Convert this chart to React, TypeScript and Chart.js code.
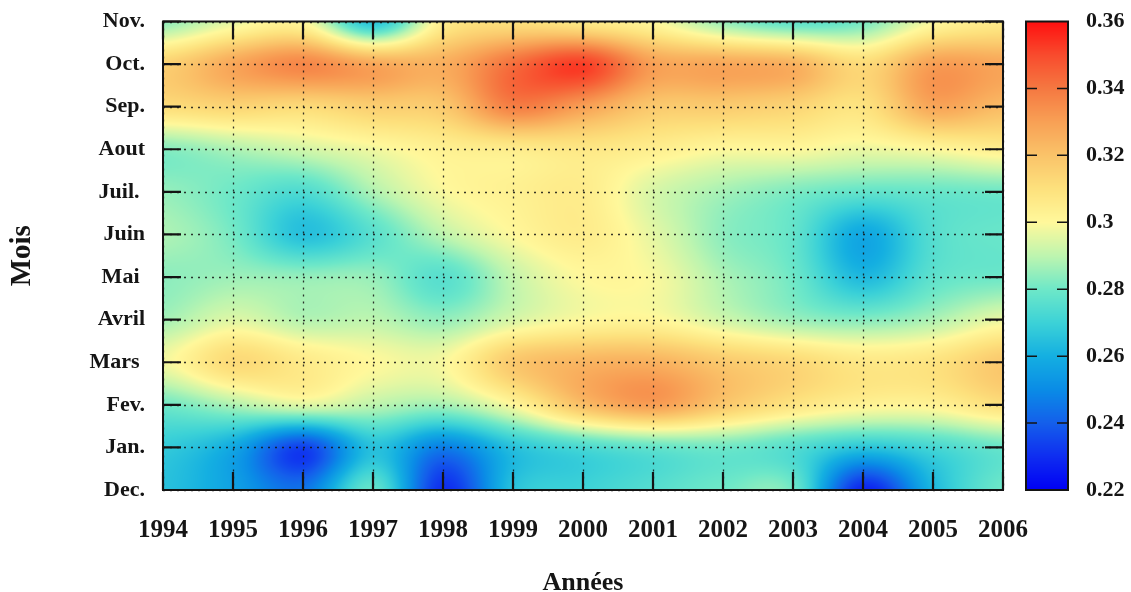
import React, { useEffect, useRef } from "react";
import { Chart, registerables } from "chart.js";

Chart.register(...registerables);

// ---------- DATA ----------
const years = [1994, 1995, 1996, 1997, 1998, 1999, 2000, 2001, 2002, 2003, 2004, 2005, 2006];
const months = ["Dec.", "Jan.", "Fev.", "Mars ", "Avril", "Mai ", "Juin", "Juil. ", "Aout", "Sep.", "Oct.", "Nov."];

// one array per month (values for 1994 … 2006)
const decValues = [0.265, 0.256, 0.245, 0.278, 0.23, 0.265, 0.27, 0.275, 0.28, 0.28, 0.228, 0.262, 0.28];
const janValues = [0.268, 0.258, 0.234, 0.265, 0.247, 0.265, 0.273, 0.278, 0.28, 0.275, 0.266, 0.272, 0.279];
const fevValues = [0.28, 0.288, 0.295, 0.29, 0.287, 0.3, 0.321, 0.33, 0.318, 0.308, 0.302, 0.302, 0.31];
const marsValues = [0.298, 0.312, 0.306, 0.3, 0.299, 0.318, 0.324, 0.325, 0.318, 0.313, 0.307, 0.309, 0.318];
const avrilValues = [0.287, 0.295, 0.289, 0.29, 0.285, 0.294, 0.3, 0.301, 0.293, 0.286, 0.283, 0.288, 0.297];
const maiValues = [0.284, 0.286, 0.285, 0.285, 0.276, 0.291, 0.3, 0.299, 0.288, 0.28, 0.263, 0.277, 0.28];
const juinValues = [0.288, 0.281, 0.265, 0.276, 0.29, 0.3, 0.305, 0.296, 0.284, 0.278, 0.258, 0.275, 0.279];
const juilValues = [0.285, 0.28, 0.274, 0.288, 0.299, 0.303, 0.305, 0.294, 0.287, 0.282, 0.278, 0.279, 0.28];
const aoutValues = [0.283, 0.288, 0.293, 0.298, 0.303, 0.305, 0.307, 0.304, 0.3, 0.3, 0.297, 0.3, 0.304];
const sepValues = [0.311, 0.314, 0.312, 0.316, 0.318, 0.338, 0.33, 0.318, 0.317, 0.314, 0.309, 0.328, 0.322];
const octValues = [0.315, 0.328, 0.336, 0.328, 0.326, 0.342, 0.352, 0.33, 0.328, 0.325, 0.312, 0.33, 0.328];
const novValues = [0.284, 0.296, 0.3, 0.265, 0.304, 0.31, 0.306, 0.3, 0.285, 0.277, 0.281, 0.299, 0.306];

const valueRows = [
  decValues, janValues, fevValues, marsValues, avrilValues, maiValues,
  juinValues, juilValues, aoutValues, sepValues, octValues, novValues,
];

const colorMin = 0.22;
const colorMax = 0.36;
const colorStep = 0.02;

const xTitle = "Années";
const yTitle = "Mois";

// ---------- STYLE ----------
const FONT = "'Liberation Serif', 'Times New Roman', serif";
const TEXT = "#151515";

const stopVals = [0.22, 0.23, 0.24, 0.25, 0.26, 0.27, 0.28, 0.29, 0.3, 0.31, 0.32, 0.33, 0.34, 0.35, 0.36];
const stopColors = [
  [0, 0, 245], [15, 45, 240], [20, 95, 235], [10, 140, 230], [20, 175, 225],
  [60, 210, 215], [110, 232, 200], [190, 245, 175], [255, 248, 155], [253, 225, 125],
  [250, 195, 105], [248, 160, 85], [245, 120, 65], [248, 75, 45], [255, 15, 15],
];

function cmap(v: number): number[] {
  if (v <= stopVals[0]) return stopColors[0];
  const n = stopVals.length;
  if (v >= stopVals[n - 1]) return stopColors[n - 1];
  let k = 0;
  while (k < n - 2 && v > stopVals[k + 1]) k++;
  const t = (v - stopVals[k]) / (stopVals[k + 1] - stopVals[k]);
  const a = stopColors[k], b = stopColors[k + 1];
  return [a[0] + (b[0] - a[0]) * t, a[1] + (b[1] - a[1]) * t, a[2] + (b[2] - a[2]) * t];
}

function catmull(p0: number, p1: number, p2: number, p3: number, t: number) {
  return 0.5 * (2 * p1 + (-p0 + p2) * t + (2 * p0 - 5 * p1 + 4 * p2 - p3) * t * t + (-p0 + 3 * p1 - 3 * p2 + p3) * t * t * t);
}

function clampI(i: number, n: number) {
  return i < 0 ? 0 : i > n - 1 ? n - 1 : i;
}

function sample(u: number, v: number) {
  const nx = years.length, ny = valueRows.length;
  let i = Math.floor(u);
  if (i > nx - 2) i = nx - 2;
  if (i < 0) i = 0;
  const tx = u - i;
  let j = Math.floor(v);
  if (j > ny - 2) j = ny - 2;
  if (j < 0) j = 0;
  const ty = v - j;
  const row = (jj: number) => {
    const r = valueRows[clampI(jj, ny)];
    return catmull(r[clampI(i - 1, nx)], r[i], r[i + 1], r[clampI(i + 2, nx)], tx);
  };
  return catmull(row(j - 1), row(j), row(j + 1), row(j + 2), ty);
}

const heatmapPlugin = {
  id: "heatmap",
  beforeDatasetsDraw(chart: any) {
    const { ctx, chartArea: a, scales } = chart;
    const xs = scales.x, ys = scales.y;
    const w = Math.round(a.right - a.left);
    const h = Math.round(a.bottom - a.top);
    const off = document.createElement("canvas");
    off.width = w;
    off.height = h;
    const octx = off.getContext("2d")!;
    const img = octx.createImageData(w, h);
    const us: number[] = [];
    for (let px = 0; px < w; px++) {
      us.push(xs.getValueForPixel(a.left + ((px + 0.5) * (a.right - a.left)) / w) - years[0]);
    }
    for (let py = 0; py < h; py++) {
      const v = ys.getValueForPixel(a.top + ((py + 0.5) * (a.bottom - a.top)) / h);
      for (let px = 0; px < w; px++) {
        const c = cmap(sample(us[px], v));
        const k = (py * w + px) * 4;
        img.data[k] = c[0];
        img.data[k + 1] = c[1];
        img.data[k + 2] = c[2];
        img.data[k + 3] = 255;
      }
    }
    octx.putImageData(img, 0, 0);
    ctx.save();
    ctx.drawImage(off, a.left, a.top, a.right - a.left, a.bottom - a.top);
    ctx.restore();
  },
  afterDatasetsDraw(chart: any) {
    const { ctx, chartArea: a, scales } = chart;
    const xs = scales.x, ys = scales.y, cs = scales.c;
    ctx.save();
    // dotted grid
    ctx.strokeStyle = "rgba(20,20,20,0.85)";
    ctx.lineWidth = 1.3;
    ctx.setLineDash([2, 5]);
    xs.ticks.forEach((t: any) => {
      const px = Math.round(xs.getPixelForValue(t.value)) + 0.5;
      ctx.beginPath();
      ctx.moveTo(px, a.top);
      ctx.lineTo(px, a.bottom);
      ctx.stroke();
    });
    ys.ticks.forEach((t: any) => {
      const py = Math.round(ys.getPixelForValue(t.value)) + 0.5;
      ctx.beginPath();
      ctx.moveTo(a.left, py);
      ctx.lineTo(a.right, py);
      ctx.stroke();
    });
    ctx.setLineDash([]);
    // inward tick marks
    ctx.strokeStyle = "#141414";
    ctx.lineWidth = 2.2;
    const TL = 18;
    xs.ticks.forEach((t: any) => {
      const px = xs.getPixelForValue(t.value);
      ctx.beginPath();
      ctx.moveTo(px, a.top);
      ctx.lineTo(px, a.top + TL);
      ctx.moveTo(px, a.bottom);
      ctx.lineTo(px, a.bottom - TL);
      ctx.stroke();
    });
    ys.ticks.forEach((t: any) => {
      const py = ys.getPixelForValue(t.value);
      ctx.beginPath();
      ctx.moveTo(a.left, py);
      ctx.lineTo(a.left + TL, py);
      ctx.moveTo(a.right, py);
      ctx.lineTo(a.right - TL, py);
      ctx.stroke();
    });
    // frame
    ctx.lineWidth = 2;
    ctx.strokeRect(a.left, a.top, a.right - a.left, a.bottom - a.top);

    // colour bar
    const bx = cs.left + 23;
    const bw = 42;
    const top = cs.getPixelForValue(colorMax);
    const bottom = cs.getPixelForValue(colorMin);
    for (let py = Math.floor(top); py < Math.ceil(bottom); py++) {
      const val = cs.getValueForPixel(py + 0.5);
      const c = cmap(val);
      ctx.fillStyle = `rgb(${Math.round(c[0])},${Math.round(c[1])},${Math.round(c[2])})`;
      ctx.fillRect(bx, py, bw, 1);
    }
    ctx.strokeStyle = "#141414";
    ctx.lineWidth = 1.5;
    cs.ticks.forEach((t: any) => {
      if (t.value <= colorMin + 1e-6 || t.value >= colorMax - 1e-6) return;
      const py = cs.getPixelForValue(t.value);
      ctx.beginPath();
      ctx.moveTo(bx, py);
      ctx.lineTo(bx + 11, py);
      ctx.moveTo(bx + bw, py);
      ctx.lineTo(bx + bw - 11, py);
      ctx.stroke();
    });
    ctx.lineWidth = 2;
    ctx.strokeRect(bx, top, bw, bottom - top);
    ctx.restore();
  },
};

export default function App() {
  const ref = useRef<HTMLCanvasElement>(null);

  useEffect(() => {
    if (!ref.current) return;
    const points: any[] = [];
    years.forEach((yr, i) => {
      valueRows.forEach((row, j) => points.push({ x: yr, y: j, v: row[i] }));
    });
    const chart = new Chart(ref.current, {
      type: "scatter",
      data: {
        datasets: [{ data: points, pointRadius: 0, pointHoverRadius: 0, showLine: false }],
      },
      plugins: [heatmapPlugin],
      options: {
        responsive: false,
        animation: false,
        events: [],
        layout: { padding: { top: 21.5, right: 0, bottom: 0, left: 0 } },
        plugins: { legend: { display: false }, tooltip: { enabled: false } },
        scales: {
          x: {
            type: "linear",
            position: "bottom",
            min: years[0],
            max: years[years.length - 1],
            afterFit: (s: any) => { s.height = 102; s.paddingLeft = 0; s.paddingRight = 0; },
            grid: { display: false, drawTicks: false },
            border: { display: false },
            ticks: {
              stepSize: 1,
              autoSkip: false,
              maxRotation: 0,
              padding: 26,
              color: TEXT,
              font: { family: FONT, size: 25, weight: "bold" },
              callback: (v: any) => String(v),
            },
            title: {
              display: true,
              text: xTitle,
              color: TEXT,
              font: { family: FONT, size: 26, weight: "bold", lineHeight: 1 },
              padding: { top: 0, bottom: -4 },
            },
          },
          y: {
            type: "linear",
            position: "left",
            min: 0,
            max: months.length - 1,
            afterFit: (s: any) => { s.width = 163; s.paddingTop = 0; s.paddingBottom = 0; },
            grid: { display: false, drawTicks: false },
            border: { display: false },
            ticks: {
              stepSize: 1,
              autoSkip: false,
              padding: 18,
              color: TEXT,
              font: { family: FONT, size: 22, weight: "bold" },
              callback: (v: any) => months[v] ?? "",
            },
            title: {
              display: true,
              text: yTitle,
              color: TEXT,
              font: { family: FONT, size: 29, weight: "bold", lineHeight: 1 },
              padding: { top: 8.5, bottom: 0 },
            },
          },
          c: {
            type: "linear",
            position: "right",
            min: colorMin,
            max: colorMax,
            afterFit: (s: any) => { s.width = 128; s.paddingTop = 0; s.paddingBottom = 0; },
            grid: { display: false, drawTicks: false },
            border: { display: false },
            ticks: {
              stepSize: colorStep,
              autoSkip: false,
              padding: 83,
              color: TEXT,
              font: { family: FONT, size: 22, weight: "bold" },
              callback: (v: any) => String(parseFloat(Number(v).toFixed(2))),
            },
          },
        },
      },
    });
    return () => chart.destroy();
  }, []);

  return (
    <div style={{ position: "fixed", left: 0, top: 0, width: 1131, height: 592, background: "#fff" }}>
      <canvas ref={ref} width={1131} height={592} style={{ display: "block" }} />
    </div>
  );
}
